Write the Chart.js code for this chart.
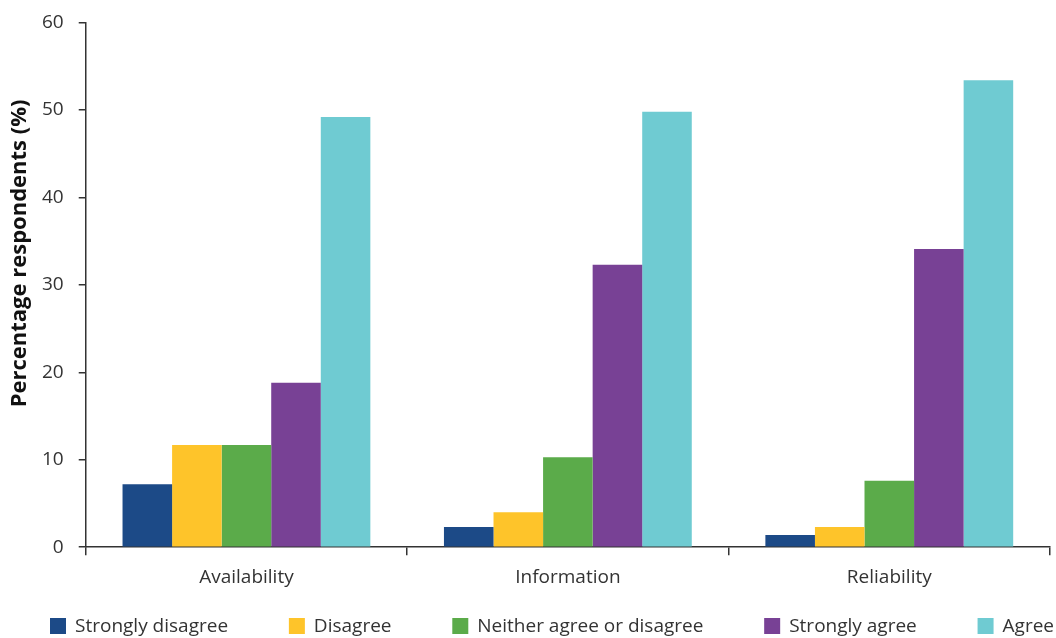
<!DOCTYPE html>
<html>
<head>
<meta charset="utf-8">
<script src="https://cdn.jsdelivr.net/npm/chart.js@4"></script>
<style>
  html, body { margin: 0; padding: 0; background: #fff; }
  #wrap { width: 1056px; height: 638px; position: relative; }
</style>
</head>
<body>
<div id="wrap"><canvas id="chart"></canvas></div>
<script>
const categories = ['Availability', 'Information', 'Reliability']
const seriesNames = ['Strongly disagree', 'Disagree', 'Neither agree or disagree', 'Strongly agree', 'Agree']
const stronglyDisagree = [7.2, 2.3, 1.4]
const disagree = [11.7, 4.0, 2.3]
const neither = [11.7, 10.3, 7.6]
const stronglyAgree = [18.8, 32.3, 34.1]
const agree = [49.2, 49.8, 53.4]
const yTicks = [0, 10, 20, 30, 40, 50, 60]
const yTitle = 'Percentage respondents (%)'

const colors = ['#1c4a87', '#fec42a', '#5bab4a', '#784195', '#6fcbd2']
const values = [stronglyDisagree, disagree, neither, stronglyAgree, agree]

const axisColor = '#333333'
const font = 'Open Sans'

// legend spread across the full width, like the original
const spreadLegend = {
    id: 'spreadLegend',
    afterDraw(chart) {
        const c = chart.ctx
        const box = 16, gapText = 9
        c.save()
        c.font = '19px "' + font + '"'
        c.textBaseline = 'middle'
        const items = chart.data.datasets.map(d => ({
            label: d.label,
            color: d.backgroundColor,
            w: box + gapText + c.measureText(d.label).width
        }))
        const left = 50, right = chart.width - 2
        const total = items.reduce((a, b) => a + b.w, 0)
        const gap = (right - left - total) / (items.length - 1)
        const y = 626
        let x = left
        items.forEach(it => {
            c.fillStyle = it.color
            c.fillRect(x, y - box / 2, box, box)
            c.fillStyle = axisColor
            c.fillText(it.label, x + box + gapText, y + 1)
            x += it.w + gap
        })
        c.restore()
    }
}

// y title sits a bit above the middle of the axis in the original
const sideTitle = {
    id: 'sideTitle',
    afterDraw(chart) {
        const c = chart.ctx
        const area = chart.chartArea
        c.save()
        c.font = 'bold 22px "' + font + '"'
        c.fillStyle = '#111'
        c.textAlign = 'center'
        c.textBaseline = 'middle'
        c.translate(20, area.top + (area.bottom - area.top) * 0.44)
        c.rotate(-Math.PI / 2)
        c.fillText(yTitle, 0, 0)
        c.restore()
    }
}

let ctx = document.getElementById('chart').getContext('2d')
let chart = new Chart(ctx, {
    type: 'bar',
    data: {
        labels: categories,
        datasets: seriesNames.map((name, i) => ({
            label: name,
            data: values[i],
            backgroundColor: colors[i],
            borderWidth: 0,
            barPercentage: 1,
            categoryPercentage: 0.771
        }))
    },
    plugins: [spreadLegend, sideTitle],
    options: {
        responsive: true,
        maintainAspectRatio: false,
        animation: false,
        layout: { padding: { top: 0, right: 6, left: 27, bottom: 38 } },
        plugins: {
            tooltip: { enabled: false },
            legend: { display: false }
        },
        scales: {
            x: {
                grid: { display: true, drawOnChartArea: false, offset: true, tickLength: 8, color: axisColor, lineWidth: 1.5 },
                border: { color: axisColor, width: 1.5 },
                ticks: { color: axisColor, font: { family: font, size: 19 }, padding: 11 }
            },
            y: {
                min: 0,
                max: 60,
                afterBuildTicks: (axis) => { axis.ticks = yTicks.map(v => ({ value: v })) },
                grid: { display: true, drawOnChartArea: false, tickLength: 7, color: axisColor, lineWidth: 1.5 },
                border: { color: axisColor, width: 1.5 },
                ticks: { color: axisColor, font: { family: font, size: 19, lineHeight: 0.8 }, padding: 15 }
            }
        }
    }
})
</script>
</body>
</html>
